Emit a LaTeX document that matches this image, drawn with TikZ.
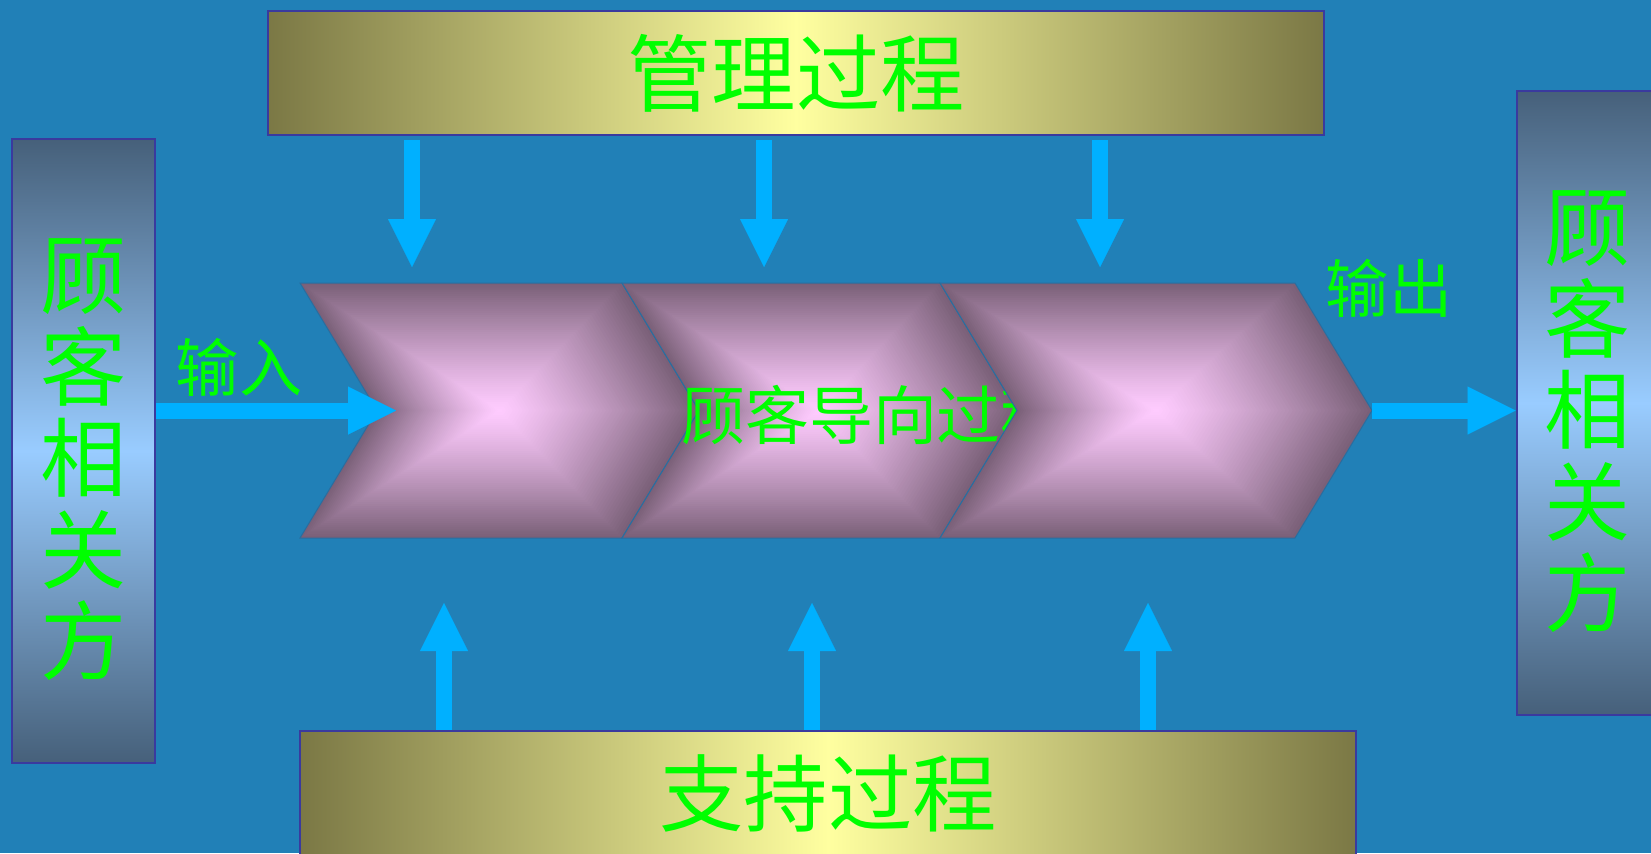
\documentclass[tikz,border=0pt]{standalone}
\usepackage{fontspec}
\newfontfamily\cjk{Noto Sans CJK SC}
\usetikzlibrary{arrows.meta}

\definecolor{slide}{RGB}{33,128,183}
\definecolor{boxline}{RGB}{58,58,158}
\definecolor{barolive}{RGB}{123,120,69}
\definecolor{barpale}{RGB}{255,255,160}
\definecolor{sidedark}{RGB}{70,96,122}
\definecolor{sidelight}{RGB}{153,204,255}
\definecolor{flowblue}{RGB}{0,176,255}
\definecolor{labgreen}{RGB}{0,255,0}
\definecolor{chevmauve}{RGB}{122,96,120}
\definecolor{chevpink}{RGB}{255,204,255}
\definecolor{chevline}{RGB}{40,110,160}

% one chevron of the process band, from x=#1 (back) to x=#2 (shoulder)
\newcommand\chevpath[2]{(#1,283) -- (#2,283) -- (#2+77,410.5) -- (#2,538) -- (#1,538) -- (#1+77,410.5) -- cycle}
\newcommand\chevron[2]{%
  \foreach \k in {0,...,59}{%
    \pgfmathsetmacro\s{1-\k/60}%
    \pgfmathsetmacro\p{100*(1-\s^1.2)}%
    \fill[chevpink!\p!chevmauve,scale around={\s:({(#1+#2+77)/2},410.5)}] \chevpath{#1}{#2};
  }%
  \draw[chevedge] \chevpath{#1}{#2};
}

\begin{document}
\begin{tikzpicture}[x=0.02cm,y=-0.02cm,
procbar/.style={draw=boxline,line width=0.04cm,minimum width=21.12cm,minimum height=2.48cm,
  left color=barolive,right color=barolive,middle color=barpale,
  text=labgreen,font=\cjk\fontsize{48}{50}\selectfont},
partybox/.style={draw=boxline,line width=0.04cm,minimum width=2.86cm,minimum height=12.48cm,
  top color=sidedark,bottom color=sidedark,middle color=sidelight,
  text=labgreen,align=center,font=\cjk\fontsize{49}{52}\selectfont},
proctext/.style={text=labgreen,inner sep=0pt,font=\cjk\fontsize{36.4}{38}\selectfont},
flowlabel/.style={text=labgreen,inner sep=0pt,font=\cjk\fontsize{36}{38}\selectfont},
chevedge/.style={draw=chevline,line width=0.02cm},
flow/.style={draw=flowblue,line width=0.32cm,-{Triangle[width=0.96cm,length=0.96cm,line width=0.01pt]}}]

\useasboundingbox (0,0) rectangle (1651,853);
\fill[slide] (0,0) rectangle (1651,853);

\draw (796,73) node[procbar] (mgmt) {管理过程};
\draw (828,793) node[procbar] (supp) {支持过程};
\draw (83.5,451) node[partybox] (custL) {\\[-0.1cm]顾\\客\\相\\关\\方};
\draw (1588,403) node[partybox] (custR) {\\[-0.1cm]顾\\客\\相\\关\\方};

\chevron{300}{622}
\chevron{622}{940}
\draw (873,415) node[proctext] (cop) {顾客导向过程};
\chevron{940}{1295}

\coordinate (inp) at (396,410.5);
\coordinate (outp) at (1372,410.5);
\foreach \x [count=\i] in {412,764,1100} \coordinate (d\i) at (\x,267);
\foreach \x [count=\i] in {444,812,1148} \coordinate (u\i) at (\x,603);

\draw[flow] (custL.east |- inp) -- (inp);
\draw[flow] (outp) -- (custR.west |- outp);
\foreach \i in {1,2,3} {
  \draw[flow,shorten <=0.08cm] (mgmt.south -| d\i) -- (d\i);
  \draw[flow] (supp.north -| u\i) -- (u\i);
}

\draw (239,367) node[flowlabel] (inlab) {输入};
\draw (1389,288) node[flowlabel] (outlab) {输出};

\end{tikzpicture}
\end{document}
